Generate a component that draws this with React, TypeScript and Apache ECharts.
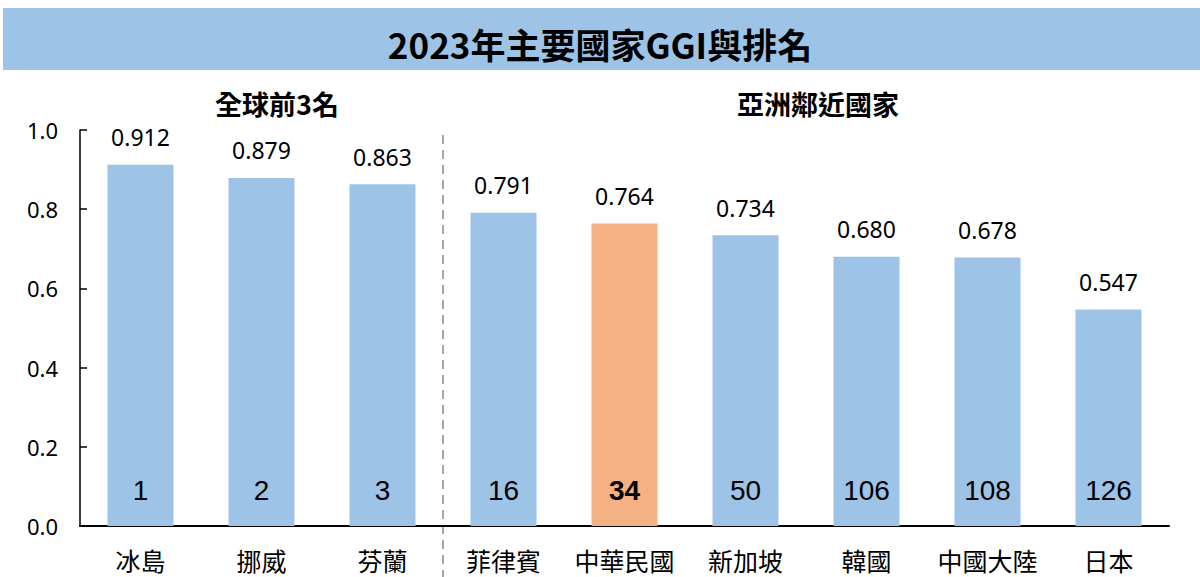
import React, { useEffect, useRef } from "react";
import * as echarts from "echarts";

const chartTitle = "2023年主要國家GGI與排名";
const groupTitles = ["全球前3名", "亞洲鄰近國家"];
const countries = ["冰島", "挪威", "芬蘭", "菲律賓", "中華民國", "新加坡", "韓國", "中國大陸", "日本"];
const ggiScores = [0.912, 0.879, 0.863, 0.791, 0.764, 0.734, 0.68, 0.678, 0.547];
const ranks = [1, 2, 3, 16, 34, 50, 106, 108, 126];
const highlightCountry = "中華民國";
const yMin = 0;
const yMax = 1;
const yInterval = 0.2;

const BLUE = "#9DC3E6";
const ORANGE = "#F4B183";
const CJK = "'Noto Sans CJK TC', 'Noto Sans CJK SC', sans-serif";

export default function App() {
  const ref = useRef<HTMLDivElement>(null);
  useEffect(() => {
    document.body.style.margin = "0";
    if (!ref.current) return;
    const chart = echarts.init(ref.current, null, { renderer: "svg" });
    const option: any = {
      animation: false,
      backgroundColor: "#ffffff",
      grid: { left: 80, right: 31, top: 130, bottom: 51 },
      xAxis: {
        type: "category",
        data: countries,
        axisLine: { lineStyle: { color: "#000", width: 2 } },
        axisTick: { show: false },
        axisLabel: {
          color: "#000",
          fontSize: 25,
          fontFamily: CJK,
          margin: 20,
          interval: 0,
          lineHeight: 28,
        },
      },
      yAxis: {
        type: "value",
        min: yMin,
        max: yMax,
        interval: yInterval,
        axisLine: { show: true, lineStyle: { color: "#000", width: 1.5 } },
        axisTick: { show: true, inside: true, length: 7, lineStyle: { color: "#000", width: 1.5 } },
        splitLine: { show: false },
        axisLabel: {
          color: "#000",
          fontSize: 22,
          fontFamily: "'Noto Sans', sans-serif",
          margin: 22,
          formatter: (v: number) => v.toFixed(1),
        },
      },
      graphic: [
        { type: "rect", shape: { x: 3, y: 8, width: 1197, height: 62 }, style: { fill: BLUE }, z: 0 },
        {
          type: "text",
          x: 600,
          y: 43,
          style: {
            text: chartTitle,
            fontSize: 35,
            fontWeight: "bold",
            fontFamily: CJK,
            fill: "#000",
            align: "center",
            verticalAlign: "middle",
          },
        },
        {
          type: "text",
          x: 277,
          y: 103,
          style: {
            text: groupTitles[0],
            fontSize: 27,
            fontWeight: "bold",
            fontFamily: CJK,
            fill: "#000",
            align: "center",
            verticalAlign: "middle",
          },
        },
        {
          type: "text",
          x: 818,
          y: 103,
          style: {
            text: groupTitles[1],
            fontSize: 27,
            fontWeight: "bold",
            fontFamily: CJK,
            fill: "#000",
            align: "center",
            verticalAlign: "middle",
          },
        },
      ],
      series: [
        {
          type: "bar",
          barWidth: 66,
          data: ggiScores.map((v, i) => ({
            value: v,
            itemStyle: { color: countries[i] === highlightCountry ? ORANGE : BLUE },
          })),
          label: {
            show: true,
            position: "top",
            distance: 16,
            color: "#000",
            fontSize: 23,
            fontFamily: "'Noto Sans', sans-serif",
            formatter: (p: any) => Number(p.value).toFixed(3),
          },
        },
        {
          type: "bar",
          barWidth: 66,
          barGap: "-100%",
          silent: true,
          data: ggiScores.map((v, i) => ({
            value: v,
            itemStyle: { color: "rgba(0,0,0,0)" },
            label: countries[i] === highlightCountry ? { fontWeight: "bold" } : {},
          })),
          label: {
            show: true,
            position: "insideBottom",
            distance: 22,
            color: "#000",
            fontSize: 28,
            fontFamily: "'Liberation Sans', Arial, sans-serif",
            formatter: (p: any) => String(ranks[p.dataIndex]),
          },
        },
      ],
    };
    chart.setOption(option);
    const x1 = chart.convertToPixel({ xAxisIndex: 0 }, 2) as number;
    const x2 = chart.convertToPixel({ xAxisIndex: 0 }, 3) as number;
    const sepX = (x1 + x2) / 2;
    chart.setOption({
      graphic: [
        {
          id: "separator",
          type: "line",
          shape: { x1: sepX, y1: 135, x2: sepX, y2: 577 },
          style: { stroke: "#A6A6A6", lineWidth: 2, lineDash: [9, 6] },
        },
      ],
    });
    return () => chart.dispose();
  }, []);
  return <div ref={ref} style={{ width: 1200, height: 577 }} />;
}
